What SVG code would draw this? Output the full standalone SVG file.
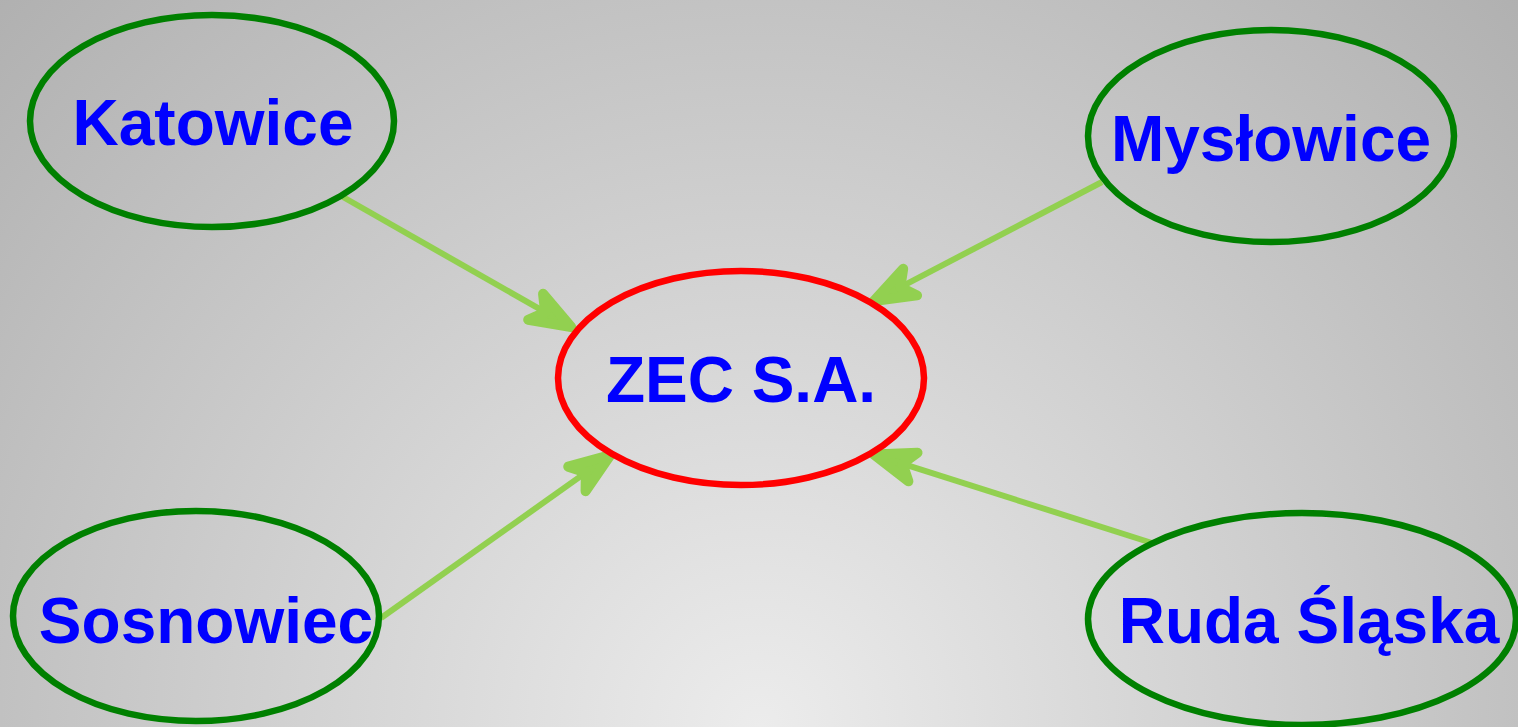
<svg xmlns="http://www.w3.org/2000/svg" width="1518" height="727" viewBox="0 0 1518 727">
<defs>
<radialGradient id="bg" gradientUnits="userSpaceOnUse" cx="760" cy="727" r="1060">
<stop offset="0" stop-color="#ececec"/>
<stop offset="1" stop-color="#b0b0b0"/>
</radialGradient>
<marker id="ah" markerUnits="userSpaceOnUse" viewBox="-70 -30 80 60" markerWidth="80" markerHeight="60" refX="-30" refY="0" orient="auto" overflow="visible">
<path d="M-2,0 L-43,-15 L-32,0 L-43,15 Z" fill="#92d050" stroke="#92d050" stroke-width="10" stroke-linejoin="round"/>
</marker>
<style>
.city{fill:none;stroke:#008000;stroke-width:6.5}
.main{fill:none;stroke:#ff0000;stroke-width:6.5}
.lbl{font-family:"Liberation Sans",Arial,sans-serif;font-weight:bold;font-size:64px;fill:#0000ff;text-anchor:middle}
.conn{stroke:#92d050;stroke-width:6;fill:none;marker-end:url(#ah)}
</style>
</defs>
<rect width="1518" height="727" fill="url(#bg)"/>
<g id="connectors">
<line class="conn" x1="343" y1="197" x2="546.9" y2="313.2"/>
<line class="conn" x1="1102" y1="182" x2="898.6" y2="288.1"/>
<line class="conn" x1="381" y1="618" x2="587.5" y2="471.4"/>
<line class="conn" x1="1152" y1="543" x2="900.6" y2="463.1"/>
</g>
<g id="katowice">
<ellipse class="city" cx="212" cy="121" rx="182" ry="106"/>
<text class="lbl" x="213" y="145">Katowice</text>
</g>
<g id="myslowice">
<ellipse class="city" cx="1271" cy="136" rx="183" ry="106"/>
<text class="lbl" x="1271" y="161">Mysłowice</text>
</g>
<g id="zec">
<ellipse class="main" cx="741" cy="378" rx="183" ry="107"/>
<text class="lbl" x="741" y="402">ZEC S.A.</text>
</g>
<g id="sosnowiec">
<ellipse class="city" cx="196" cy="616" rx="183" ry="105"/>
<text class="lbl" x="206" y="643">Sosnowiec</text>
</g>
<g id="ruda">
<ellipse class="city" cx="1302" cy="619" rx="214" ry="106"/>
<text class="lbl" x="1309" y="643">Ruda Śląska</text>
</g>
</svg>
